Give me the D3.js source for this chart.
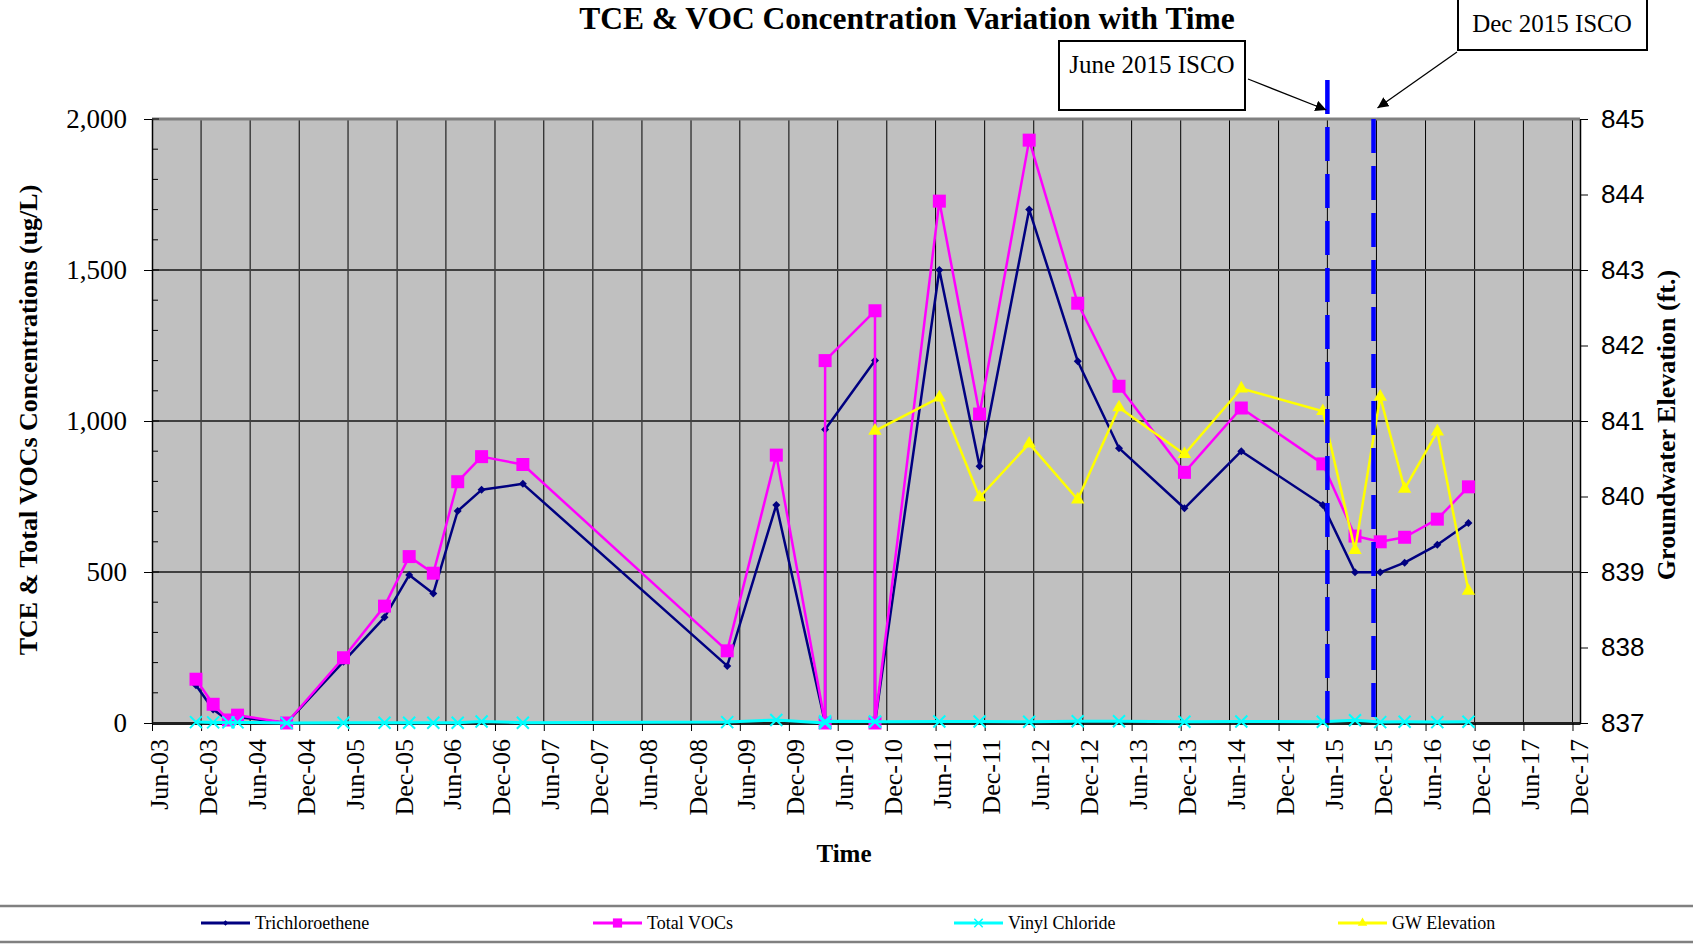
<!DOCTYPE html>
<html>
<head>
<meta charset="utf-8">
<script src="https://cdn.jsdelivr.net/npm/d3@7"></script>
<style>
  body { margin: 0; background: #fff; }
  svg { display: block; }
</style>
</head>
<body>
<div id="chart"></div>
<script>

// sampling dates (Apr-10 and Oct-10 have two results each)
var sampleDates = ["2003-11-12", "2004-01-15", "2004-03-12", "2004-04-15", "2004-10-15",
    "2005-05-15", "2005-10-15", "2006-01-15", "2006-04-15", "2006-07-15", "2006-10-12",
    "2007-03-15", "2009-04-15", "2009-10-15", "2010-04-15", "2010-04-15", "2010-10-18",
    "2010-10-18", "2011-06-15", "2011-11-12", "2012-05-15", "2012-11-12", "2013-04-15",
    "2013-12-15", "2014-07-15", "2015-05-15", "2015-09-12", "2015-12-15", "2016-03-15",
    "2016-07-15", "2016-11-08"];

// ug/L
var tce = [125, 45, 8, 20, 0, 203, 350, 490, 429, 702, 772, 792, 189, 722, 0, 972,
    1200, 0, 1500, 850, 1700, 1198, 910, 711, 900, 722, 499, 499, 531, 590, 662];
var totalVocs = [145, 62, 10, 26, 0, 216, 387, 551, 496, 799, 882, 856, 239, 887, 0, 1200,
    1365, 0, 1728, 1023, 1930, 1390, 1115, 830, 1043, 858, 619, 600, 615, 675, 782];
var vinylChloride = [3, 2, 2, 2, 0, 1, 1, 1, 1, 1, 5, 1, 3, 10, 0, 6, 5, 4, 5, 5, 4, 6,
    6, 4, 5, 4, 9, 3, 4, 3, 4];
// ft
var gwElevation = [null, null, null, null, null, null, null, null, null, null, null, null,
    null, null, null, null, null, 840.87, 841.31, 839.99, 840.70, 839.96, 841.18, 840.56,
    841.43, 841.13, 839.29, 841.32, 840.10, 840.86, 838.75];

var iscoDates = ["2015-06-01", "2015-11-20"];
var iscoLabels = ["June 2015 ISCO", "Dec 2015 ISCO"];

var leftTicks = [0, 500, 1000, 1500, 2000];
var rightTicks = [837, 838, 839, 840, 841, 842, 843, 844, 845];

var seriesNames = ["Trichloroethene", "Total VOCs", "Vinyl Chloride", "GW Elevation"];

// layout
var width = 1693, height = 944;
var plot = { left: 152, right: 1580, top: 119, bottom: 723 };
var serif = "'Liberation Serif', 'Times New Roman', serif";
var sans = "'Liberation Sans', Arial, sans-serif";

var parse = d3.timeParse("%Y-%m-%d");
var rows = sampleDates.map(function (d, i) {
    return { date: parse(d), tce: tce[i], voc: totalVocs[i], vc: vinylChloride[i], gw: gwElevation[i] };
});

var svg = d3.select("#chart").append("svg")
    .attr("width", width)
    .attr("height", height);

var x = d3.scaleTime()
    .domain([new Date(2003, 5, 1), new Date(2017, 11, 29)])
    .range([plot.left, plot.right]);
var y = d3.scaleLinear().domain([0, 2000]).range([plot.bottom, plot.top]);
var y2 = d3.scaleLinear().domain([837, 845]).range([plot.bottom, plot.top]);

var xTicks = d3.timeMonth.range(new Date(2003, 5, 1), new Date(2017, 11, 2), 6);

// plot area
svg.append("rect")
    .attr("x", plot.left).attr("y", plot.top)
    .attr("width", plot.right - plot.left).attr("height", plot.bottom - plot.top)
    .attr("fill", "#c0c0c0");

// vertical gridlines
svg.append("g").selectAll("line")
    .data(xTicks.slice(1))
    .enter().append("line")
    .attr("x1", function (d) { return x(d) }).attr("x2", function (d) { return x(d) })
    .attr("y1", plot.top).attr("y2", plot.bottom)
    .attr("stroke", "#000").attr("stroke-width", 1);

// horizontal gridlines
svg.append("g").selectAll("line")
    .data(leftTicks.slice(1))
    .enter().append("line")
    .attr("x1", plot.left).attr("x2", plot.right)
    .attr("y1", function (d) { return y(d) }).attr("y2", function (d) { return y(d) })
    .attr("stroke", function (d) { return d == 2000 ? "#808080" : "#404040" })
    .attr("stroke-width", function (d) { return d == 2000 ? 3 : 2 });

// left axis
var gl = svg.append("g")
    .attr("transform", "translate(" + plot.left + ",0)")
    .call(d3.axisLeft(y).tickValues(leftTicks).tickFormat(d3.format(","))
        .tickSizeInner(8).tickSizeOuter(0).tickPadding(17));
gl.selectAll("text").attr("font-family", serif).attr("font-size", 27).attr("fill", "#000");
gl.select(".domain").attr("stroke-width", 1.5);
// minor ticks, drawn inside
svg.append("g").selectAll("line")
    .data(d3.range(0, 2001, 100))
    .enter().append("line")
    .attr("x1", plot.left).attr("x2", function (d) { return plot.left + (d % 500 == 0 ? 7 : 6) })
    .attr("y1", function (d) { return y(d) }).attr("y2", function (d) { return y(d) })
    .attr("stroke", "#000");

// bottom axis
var gx = svg.append("g")
    .attr("transform", "translate(0," + plot.bottom + ")")
    .call(d3.axisBottom(x).tickValues(xTicks).tickFormat(d3.timeFormat("%b-%y"))
        .tickSizeInner(8).tickSizeOuter(0));
gx.select(".domain").attr("stroke", "#202020").attr("stroke-width", 3);
gx.selectAll("text")
    .attr("font-family", serif).attr("font-size", 26).attr("fill", "#000")
    .attr("text-anchor", "end")
    .attr("transform", "rotate(-90)")
    .attr("x", -16).attr("y", 0).attr("dy", 15);

// right axis
var gr = svg.append("g")
    .attr("transform", "translate(" + plot.right + ",0)")
    .call(d3.axisRight(y2).tickValues(rightTicks).tickFormat(d3.format("d"))
        .tickSizeInner(8).tickSizeOuter(0).tickPadding(13));
gr.selectAll("text").attr("font-family", sans).attr("font-size", 26).attr("fill", "#000");
gr.select(".domain").attr("stroke-width", 1.5);

// series
function lineFor(key, scale) {
    return d3.line()
        .defined(function (d) { return d[key] != null })
        .x(function (d) { return x(d.date) })
        .y(function (d) { return scale(d[key]) });
}

var diamond = {
    draw: function (ctx, size) {
        var r = Math.sqrt(size) / 2;
        ctx.moveTo(0, -r); ctx.lineTo(r, 0); ctx.lineTo(0, r); ctx.lineTo(-r, 0); ctx.closePath();
    }
};

var series = [
    { key: "tce", scale: y, color: "#000080", width: 2.5, symbol: diamond, size: 64, stroke: false },
    { key: "voc", scale: y, color: "#ff00ff", width: 2.5, symbol: d3.symbolSquare, size: 169, stroke: false },
    { key: "vc", scale: y, color: "#00ffff", width: 3, symbol: d3.symbolX, size: 96, stroke: true },
    { key: "gw", scale: y2, color: "#ffff00", width: 2.5, symbol: d3.symbolTriangle, size: 78, stroke: false }
];

series.forEach(function (s) {
    var g = svg.append("g");
    g.append("path")
        .datum(rows)
        .attr("d", lineFor(s.key, s.scale))
        .attr("fill", "none")
        .attr("stroke", s.color)
        .attr("stroke-width", s.width)
        .attr("stroke-linejoin", "round");
    g.selectAll("path.pt")
        .data(rows.filter(function (d) { return d[s.key] != null }))
        .enter().append("path")
        .attr("class", "pt")
        .attr("transform", function (d) { return "translate(" + x(d.date) + "," + s.scale(d[s.key]) + ")" })
        .attr("d", d3.symbol(s.symbol, s.size))
        .attr("fill", s.stroke ? "none" : s.color)
        .attr("stroke", s.stroke ? s.color : "none")
        .attr("stroke-width", 2);
});

// ISCO event lines
var iscoTop = [80, plot.top];
svg.append("g").selectAll("line")
    .data(iscoDates)
    .enter().append("line")
    .attr("x1", function (d) { return x(parse(d)) }).attr("x2", function (d) { return x(parse(d)) })
    .attr("y1", function (d, i) { return iscoTop[i] }).attr("y2", plot.bottom)
    .attr("stroke", "#0000ff").attr("stroke-width", 4.5)
    .attr("stroke-dasharray", "34,13");

// annotation boxes
svg.append("defs").append("marker")
    .attr("id", "arrow")
    .attr("viewBox", "0 0 10 10")
    .attr("refX", 10).attr("refY", 5)
    .attr("markerWidth", 11).attr("markerHeight", 11)
    .attr("markerUnits", "userSpaceOnUse")
    .attr("orient", "auto")
    .append("path").attr("d", "M0,0 L10,5 L0,10 z").attr("fill", "#000");

var boxes = [
    { x: 1059, y: 41, w: 186, h: 69, tx: 1152, ty: 73, ax1: 1248, ay1: 79, ay2: 110 },
    { x: 1458, y: -2, w: 189, h: 52, tx: 1552, ty: 32, ax1: 1457, ay1: 52, ay2: 108 }
];
boxes.forEach(function (b, i) {
    svg.append("rect")
        .attr("x", b.x).attr("y", b.y).attr("width", b.w).attr("height", b.h)
        .attr("fill", "#fff").attr("stroke", "#000").attr("stroke-width", 2);
    svg.append("text")
        .attr("x", b.tx).attr("y", b.ty)
        .attr("text-anchor", "middle")
        .attr("font-family", serif).attr("font-size", 25)
        .text(iscoLabels[i]);
    svg.append("line")
        .attr("x1", b.ax1).attr("y1", b.ay1)
        .attr("x2", x(parse(iscoDates[i])) + (i == 0 ? -1 : 4)).attr("y2", b.ay2)
        .attr("stroke", "#000").attr("stroke-width", 1.3)
        .attr("marker-end", "url(#arrow)");
});

// titles
svg.append("text")
    .attr("x", 907).attr("y", 29)
    .attr("text-anchor", "middle")
    .attr("font-family", serif).attr("font-weight", "bold").attr("font-size", 31.5)
    .text("TCE & VOC Concentration Variation with Time");

svg.append("text")
    .attr("transform", "translate(37,420) rotate(-90)")
    .attr("text-anchor", "middle")
    .attr("font-family", serif).attr("font-weight", "bold").attr("font-size", 26)
    .text("TCE & Total VOCs Concentrations (ug/L)");

svg.append("text")
    .attr("transform", "translate(1675,425) rotate(-90)")
    .attr("text-anchor", "middle")
    .attr("font-family", serif).attr("font-weight", "bold").attr("font-size", 26)
    .text("Groundwater Elevation (ft.)");

svg.append("text")
    .attr("x", 844).attr("y", 862)
    .attr("text-anchor", "middle")
    .attr("font-family", serif).attr("font-weight", "bold").attr("font-size", 25)
    .text("Time");

// legend
svg.append("line").attr("x1", 0).attr("x2", width).attr("y1", 906).attr("y2", 906)
    .attr("stroke", "#808080").attr("stroke-width", 2.5);
svg.append("line").attr("x1", 0).attr("x2", width).attr("y1", 942).attr("y2", 942)
    .attr("stroke", "#808080").attr("stroke-width", 2.5);

var legendX = [201, 593, 954, 1338];
series.forEach(function (s, i) {
    var g = svg.append("g").attr("transform", "translate(" + legendX[i] + ",923)");
    g.append("line").attr("x1", 0).attr("x2", 49).attr("y1", 0).attr("y2", 0)
        .attr("stroke", s.color).attr("stroke-width", 3);
    g.append("path")
        .attr("transform", "translate(24.5,0)")
        .attr("d", d3.symbol(s.symbol, s.size * 0.5))
        .attr("fill", s.stroke ? "none" : s.color)
        .attr("stroke", s.stroke ? s.color : "none")
        .attr("stroke-width", 1.5);
    g.append("text")
        .attr("x", 54).attr("y", 6)
        .attr("font-family", serif).attr("font-size", 18)
        .text(seriesNames[i]);
});

</script>
</body>
</html>
